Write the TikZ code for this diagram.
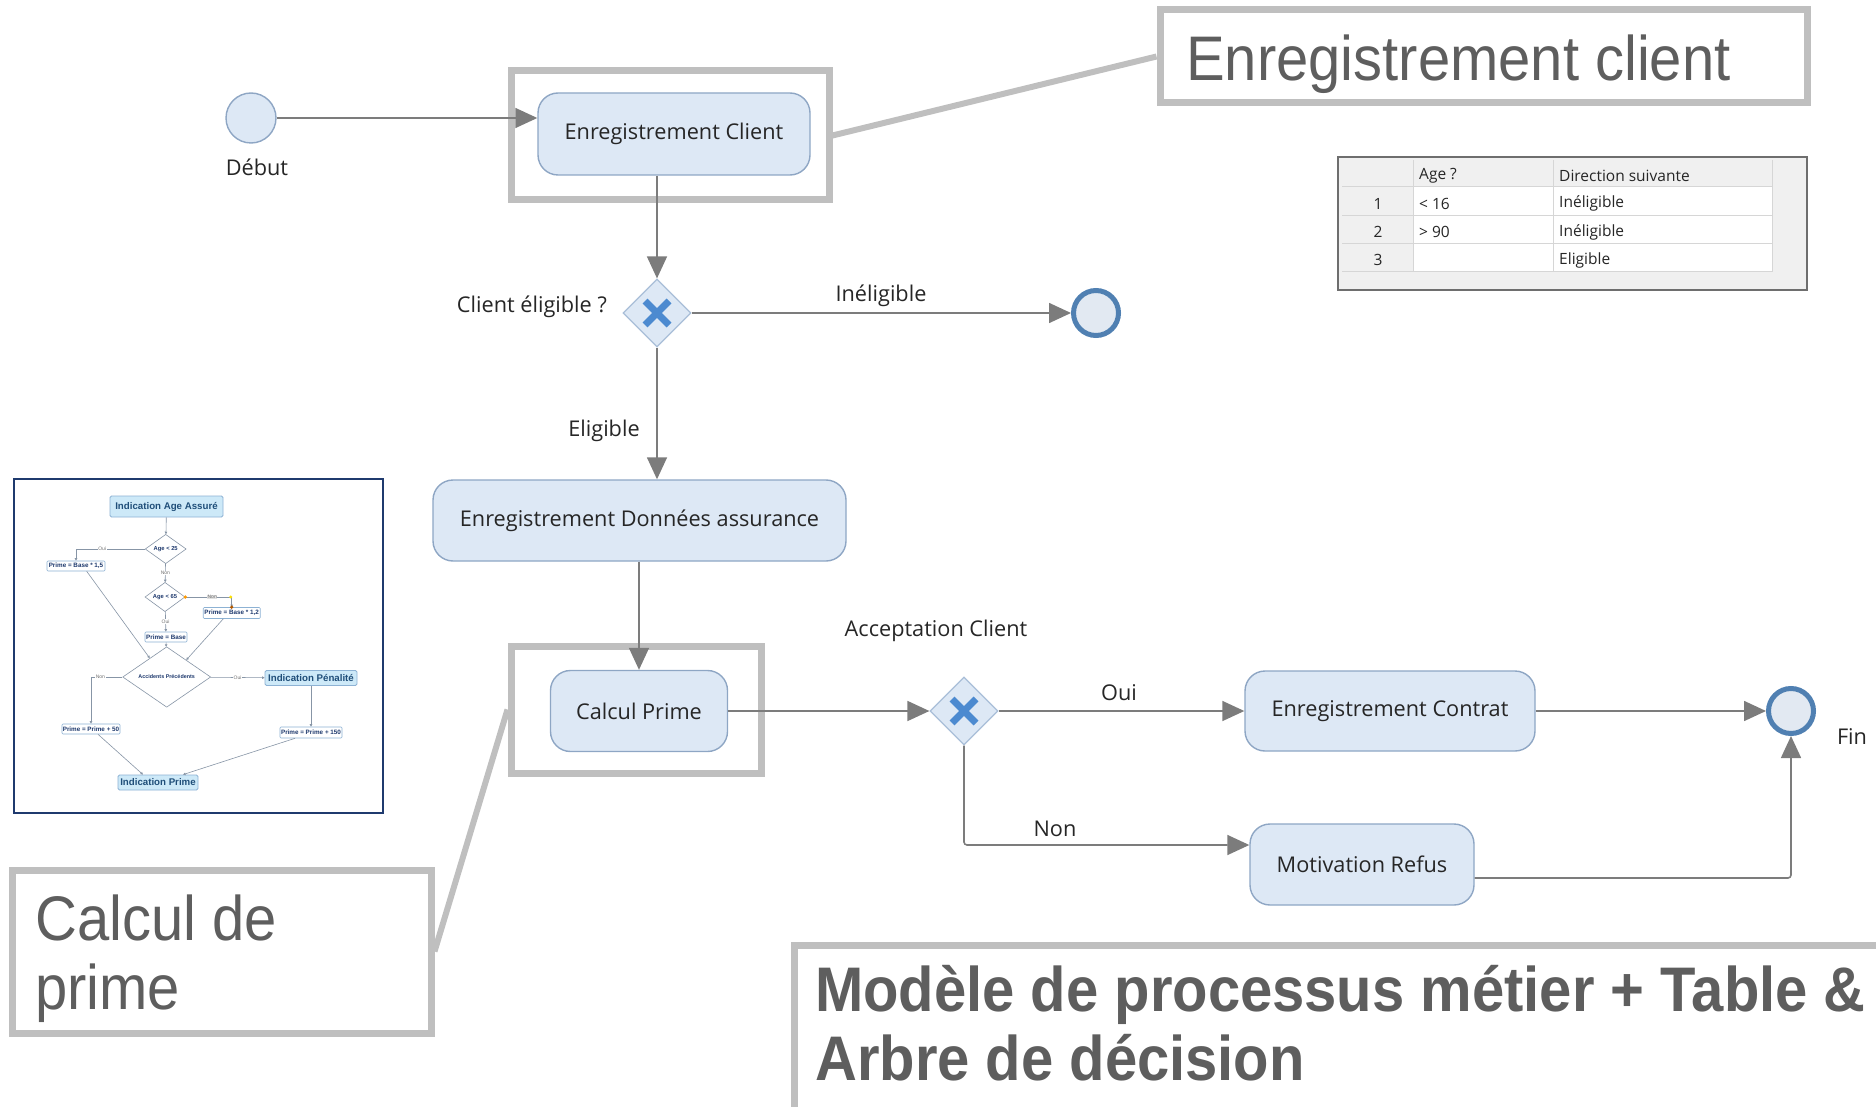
\documentclass[tikz,border=0pt]{standalone}
\usepackage{fontspec}
\setmainfont{Open Sans}
\newfontfamily\calloutfont[FakeStretch=0.92]{Liberation Sans}
\newfontfamily\insetfont{Liberation Sans}
\usetikzlibrary{shapes.geometric,positioning,arrows.meta}

\definecolor{taskfill}{HTML}{DDE8F5}
\definecolor{taskline}{HTML}{8EA6C4}
\definecolor{gwline}{HTML}{A9BED8}
\definecolor{xblue}{HTML}{4C8AD0}
\definecolor{endring}{HTML}{5080B2}
\definecolor{endfill}{HTML}{E2E9F2}
\definecolor{flowgray}{HTML}{7C7C7C}
\definecolor{hlgray}{HTML}{BFBFBF}
\definecolor{callgray}{HTML}{5E5E5E}
\definecolor{tabbg}{HTML}{F0F0F0}
\definecolor{tabframe}{HTML}{6E6E6E}
\definecolor{tabgrid}{HTML}{D6D6D6}
\definecolor{insetframe}{HTML}{1F3A6E}
\definecolor{insetfill}{HTML}{CDE9F8}
\definecolor{insetline}{HTML}{8DB2D4}
\definecolor{insettext}{HTML}{1F4E79}
\definecolor{insetedge}{HTML}{8795A6}

\begin{document}
\begin{tikzpicture}[x=1pt,y=-1pt,
    task/.style={rectangle, draw=taskline, fill=taskfill, rounded corners=20pt, line width=1.4pt,
      font=\fontsize{21.7}{26}\selectfont, text=black!85, inner sep=0pt},
    gateway/.style={diamond, draw=gwline, fill=taskfill, line width=1.2pt, minimum width=68pt,
      minimum height=68pt, inner sep=0pt,
      path picture={\draw[xblue, line width=7pt]
        ([shift={(-12pt,-12pt)}]path picture bounding box.center) -- ([shift={(12pt,12pt)}]path picture bounding box.center)
        ([shift={(-12pt,12pt)}]path picture bounding box.center) -- ([shift={(12pt,-12pt)}]path picture bounding box.center);}},
    startev/.style={circle, draw=taskline, fill=taskfill, line width=1.4pt, minimum size=50pt, inner sep=0pt},
    endev/.style={circle, draw=endring, fill=endfill, line width=5pt, minimum size=45pt, inner sep=0pt},
    flow/.style={draw=flowgray, line width=1.6pt, -{Triangle[length=22pt,width=20pt]}},
    lbl/.style={font=\fontsize{21.7}{26}\selectfont, text=black!85, inner sep=0pt},
    hlbox/.style={rectangle, draw=hlgray, line width=7pt, inner sep=0pt},
    callout/.style={rectangle, draw=hlgray, fill=white, line width=7pt, inner sep=0pt},
    calloutline/.style={draw=hlgray, line width=6pt},
    callouttext/.style={font=\calloutfont\fontsize{63}{69}\selectfont, text=callgray, inner sep=0pt},
    tabtext/.style={font=\fontsize{15.5}{18}\selectfont, text=black!85, inner sep=0pt},
    ibig/.style={rectangle, rounded corners=1.5pt, draw=insetline, fill=insetfill, line width=0.8pt,
      font=\insetfont\bfseries\fontsize{9.7}{11}\selectfont, text=insettext, inner sep=0pt},
    ismall/.style={rectangle, rounded corners=1pt, draw=insetline, fill=white, line width=0.6pt,
      font=\insetfont\bfseries\fontsize{6.3}{7}\selectfont, text=insetframe, inner sep=0pt},
    idec/.style={diamond, draw=insetedge, fill=white, line width=0.6pt,
      font=\insetfont\bfseries\fontsize{5.8}{7}\selectfont, text=insetframe, inner sep=0pt},
    ilink/.style={draw=insetedge, line width=0.6pt, -{Triangle[length=2.5pt,width=2.5pt]}},
    ilabel/.style={font=\insetfont\fontsize{5}{6}\selectfont, text=black!55, fill=white, inner sep=0.6pt}]

  \useasboundingbox (0,0) rectangle (1876,1107);
  \clip (0,0) rectangle (1876,1107);

  % Highlight frames
  \node[hlbox, minimum width=318pt, minimum height=129pt] (hlclient) at (670,135.5) {};
  \node[hlbox, minimum width=250pt, minimum height=127pt] (hlprime) at (636,709.5) {};

  % Process
  \node[startev] (debut) at (251,118) {};
  \node[lbl] (debut-lbl) at (257,167) {Début};
  \node[task, minimum width=272pt, minimum height=82pt] (enrclient) at (674,134) {Enregistrement Client};
  \node[gateway] (gweligible) at (657,313) {};
  \node[lbl, anchor=east] (gweligible-lbl) at (607,307) {Client éligible ?};
  \node[endev] (finko) at (1096,313) {};
  \node[task, minimum width=413pt, minimum height=81pt] (enrdonnees) at (639.5,520.5) {Enregistrement Données assurance};
  \node[task, minimum width=177pt, minimum height=81pt] (calcprime) at (639,711) {Calcul Prime};
  \node[gateway] (gwaccept) at (964,711) {};
  \node[lbl] (gwaccept-lbl) at (936,631) {Acceptation Client};
  \node[task, minimum width=290pt, minimum height=80pt] (enrcontrat) at (1390,711) {Enregistrement Contrat};
  \node[task, minimum width=224pt, minimum height=81pt] (motivrefus) at (1362,864.5) {Motivation Refus};
  \node[endev] (fin) at (1791,711) {};
  \node[lbl] (fin-lbl) at (1852,737) {Fin};

  % Flows
  \draw[flow] (debut) -- (debut -| enrclient.west);
  \draw[flow] (gweligible |- enrclient.south) -- (gweligible);
  \draw[flow] (gweligible) -- (finko);
  \draw[flow] (gweligible) -- (gweligible |- enrdonnees.north);
  \draw[flow] (enrdonnees.south -| calcprime) -- (calcprime);
  \draw[flow] (calcprime) -- (gwaccept);
  \draw[flow] (gwaccept) -- (enrcontrat);
  \draw[flow] (enrcontrat) -- (fin);
  \draw[flow, rounded corners=3pt] (gwaccept) |- ([yshift=19.5pt]motivrefus.west);
  \draw[flow, rounded corners=3pt] ([yshift=-13.5pt]motivrefus.east) -| (fin);

  % Flow labels
  \node[lbl] (lbl-ineligible) at (881,296) {Inéligible};
  \node[lbl] (lbl-eligible) at (604,431) {Eligible};
  \node[lbl] (lbl-oui) at (1119,693) {Oui};
  \node[lbl] (lbl-non) at (1055,829) {Non};

  % Decision table
  \filldraw[fill=tabbg, draw=tabframe, line width=2pt] (1338,157) rectangle (1807,290);
  \fill[white] (1413,187) rectangle (1772,272);
  \draw[tabgrid, line width=1pt] (1342,187) -- (1772,187) (1342,216) -- (1772,216)
    (1342,244) -- (1772,244) (1342,272) -- (1772,272)
    (1413,160) -- (1413,272) (1553,160) -- (1553,272) (1772,160) -- (1772,272);
  \node[tabtext, anchor=west] (tab-age) at (1419,175.5) {Age ?};
  \node[tabtext, anchor=west] (tab-dir) at (1559,175.5) {Direction suivante};
  \node[tabtext] (tab-n1) at (1378,203.5) {1};
  \node[tabtext, anchor=west] (tab-a1) at (1419,203.5) {< 16};
  \node[tabtext, anchor=west] (tab-d1) at (1559,203.5) {Inéligible};
  \node[tabtext] (tab-n2) at (1378,232) {2};
  \node[tabtext, anchor=west] (tab-a2) at (1419,232) {> 90};
  \node[tabtext, anchor=west] (tab-d2) at (1559,232) {Inéligible};
  \node[tabtext] (tab-n3) at (1378,260) {3};
  \node[tabtext, anchor=west] (tab-d3) at (1559,260) {Eligible};

  % Decision tree (inset)
  \filldraw[fill=white, draw=insetframe, line width=2.5pt] (14,479) rectangle (383,813);
  \node[ibig, minimum width=113pt, minimum height=21pt] (iage) at (166.5,506.5) {Indication Age Assuré};
  \node[idec, minimum width=41pt, minimum height=23pt] (d25) at (165.7,549) {Age < 25};
  \node[ismall, minimum width=58pt, minimum height=10pt] (p15) at (76,566) {Prime = Base * 1,5};
  \node[idec, minimum width=40pt, minimum height=22pt] (d65) at (165,597) {Age < 65};
  \node[ismall, minimum width=57pt, minimum height=11pt] (p12) at (231.7,613) {Prime = Base * 1,2};
  \node[ismall, minimum width=42pt, minimum height=10pt] (pbase) at (166,637) {Prime = Base};
  \node[idec, minimum width=88pt, minimum height=30pt, font=\insetfont\bfseries\fontsize{5.4}{6}\selectfont] (dacc) at (166.7,677) {Accidents Précédents};
  \node[ibig, minimum width=92pt, minimum height=15pt] (ipen) at (311,678) {Indication Pénalité};
  \node[ismall, minimum width=58pt, minimum height=10pt] (p50) at (91,729) {Prime = Prime + 50};
  \node[ismall, minimum width=62pt, minimum height=11pt] (p150) at (311,732.5) {Prime = Prime + 150};
  \node[ibig, minimum width=80pt, minimum height=15pt] (iprime) at (158,782.5) {Indication Prime};

  \draw[ilink] (iage) -- (d25);
  \draw[ilink] (d25) -| node[ilabel, pos=0.31] (il-oui1) {Oui} (p15);
  \draw[ilink] (d25) -- node[ilabel] (il-non1) {Non} (d65);
  \draw[ilink] (d65) -| node[ilabel, fill=black!12, pos=0.29] (il-non2) {Non} (p12);
  \draw[ilink] (d65) -- node[ilabel] (il-oui2) {Oui} (pbase);
  \draw[ilink] ([xshift=10.7pt]p15.south) -- (dacc.132);
  \draw[ilink] (pbase) -- (dacc);
  \draw[ilink] ([xshift=-8.4pt]p12.south) -- (dacc.41);
  \draw[ilink] (dacc) -| node[ilabel, pos=0.35] (il-non3) {Non} (p50);
  \draw[ilink] (dacc) -- node[ilabel] (il-oui3) {Oui} (ipen);
  \draw[ilink] (ipen) -- (p150);
  \draw[ilink] ([xshift=7pt]p50.south) -- ([xshift=-15pt]iprime.north);
  \draw[ilink] ([xshift=-16pt]p150.south) -- ([xshift=25pt]iprime.north);
  \fill[orange!80!yellow] (d65.east) circle (1.8pt);
  \fill[yellow!85!orange] (230.7,597) circle (1.6pt);
  \fill[orange!70!black] (p12.north) circle (1.8pt);

  % Callouts
  \node[callout, minimum width=647pt, minimum height=93pt] (coclient) at (1483.5,56.5) {};
  \node[callouttext, anchor=base west] (coclient-txt) at (1186,81) {Enregistrement client};
  \node[callout, minimum width=419pt, minimum height=163pt] (coprime) at (221.5,951.5) {};
  \node[callouttext, anchor=base west] (coprime-txt1) at (35,940) {Calcul de};
  \node[callouttext, anchor=base west] (coprime-txt2) at (35,1009) {prime};
  \node[callout, minimum width=1110pt, minimum height=175pt, anchor=north west] (comodele) at (791,942) {};
  \node[callouttext, font=\calloutfont\bfseries\fontsize{63}{69}\selectfont, anchor=base west] (comodele-txt1) at (815,1011) {Modèle de processus métier + Table \&};
  \node[callouttext, font=\calloutfont\bfseries\fontsize{63}{69}\selectfont, anchor=base west] (comodele-txt2) at (815,1080) {Arbre de décision};
  \draw[calloutline] (hlclient.east) -- (coclient.west);
  \draw[calloutline] (hlprime.west) -- (coprime.east);
\end{tikzpicture}
\end{document}
